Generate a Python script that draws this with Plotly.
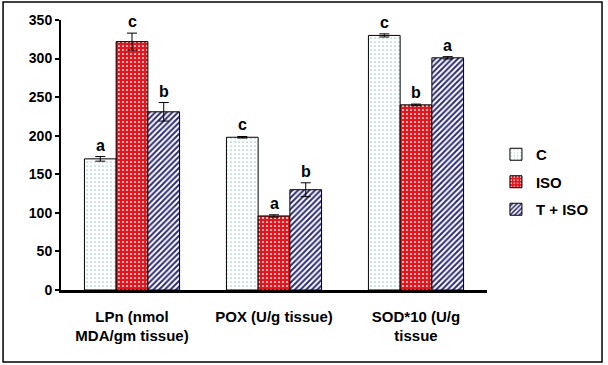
import plotly.graph_objects as go

categories = ["LPn (nmol<br>MDA/gm tissue)", "POX (U/g tissue)", "SOD*10 (U/g<br>tissue"]
series_names = ["C", "ISO", "T + ISO"]
c_values = [170, 198, 330]
iso_values = [322, 96, 240]
tiso_values = [231, 130, 301]
c_err = [3, 1, 2]
iso_err = [11, 1.5, 1]
tiso_err = [12, 9, 1.5]
c_letters = ["a", "c", "c"]
iso_letters = ["c", "a", "b"]
tiso_letters = ["b", "b", "a"]
y_ticks = [0, 50, 100, 150, 200, 250, 300, 350]

FONT = "Liberation Sans, Arial, sans-serif"

styles = [
    dict(color="white", pattern=dict(shape=".", fgcolor="#2E8B7A", bgcolor="white",
                                     size=4, solidity=0.07, fillmode="replace")),
    dict(color="#E8141C", pattern=dict(shape=".", fgcolor="white", bgcolor="#E8141C",
                                       size=4, solidity=0.18, fillmode="replace")),
    dict(color="white", pattern=dict(shape="/", fgcolor="#2B2A7A", bgcolor="white",
                                     size=4, solidity=0.5, fillmode="replace")),
]

values = [c_values, iso_values, tiso_values]
errs = [c_err, iso_err, tiso_err]
letters = [c_letters, iso_letters, tiso_letters]

fig = go.Figure()
for i, name in enumerate(series_names):
    fig.add_trace(go.Bar(
        x=categories, y=values[i], name=name,
        legendgroup=name,
        marker=dict(color=styles[i]["color"], pattern=styles[i]["pattern"],
                    line=dict(color="black", width=1)),
        error_y=dict(type="data", array=errs[i], color="black", thickness=1, width=5),
    ))

offsets = [-1, 0, 1]
annotations = []
for i in range(3):
    for j, cat in enumerate(categories):
        annotations.append(dict(
            x=j + offsets[i] * 0.2233, y=values[i][j] + errs[i][j],
            xref="x", yref="y", text=letters[i][j], showarrow=False,
            yanchor="bottom", yshift=1,
            font=dict(family=FONT, size=16, color="black", weight="bold"),
        ))

fig.update_layout(
    width=608, height=365,
    margin=dict(l=61, r=121, t=20, b=75),
    paper_bgcolor="white", plot_bgcolor="white",
    barmode="group", bargap=0.33, bargroupgap=0,
    font=dict(family=FONT, color="black"),
    showlegend=True,
    legend=dict(x=1.021, y=0.40, xanchor="left", yanchor="middle",
                font=dict(family=FONT, size=15, color="black", weight="bold"),
                tracegroupgap=5, bgcolor="rgba(0,0,0,0)"),
    annotations=annotations,
    shapes=[dict(type="rect", xref="paper", yref="paper",
                 x0=-0.136, x1=1.270, y0=-0.2667, y1=1.0667,
                 line=dict(color="black", width=1.5))],
)
fig.update_xaxes(
    type="category", showline=True, linecolor="black", linewidth=2.5,
    ticks="", showgrid=False,
    tickfont=dict(family=FONT, size=15, color="black", weight="bold"),
    ticklabelstandoff=11,
)
fig.update_yaxes(
    range=[0, 350], tickvals=y_ticks, showline=True, linecolor="black", linewidth=2,
    ticks="outside", ticklen=4, tickwidth=1.5, tickcolor="black", showgrid=False,
    zeroline=False, tickfont=dict(family=FONT, size=14, color="black", weight="bold"),
)

fig.write_html("out.html", post_script="document.body.style.margin='0px';",
               config={"displayModeBar": False})
